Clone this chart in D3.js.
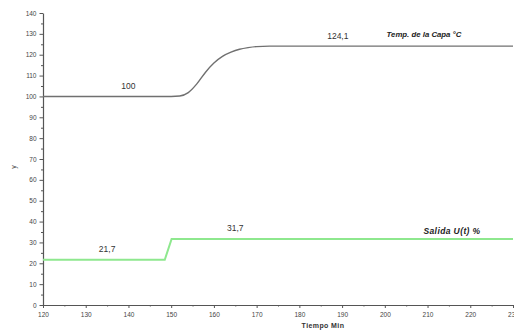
<!DOCTYPE html>
<html>
<head>
<meta charset="utf-8">
<script src="https://cdn.jsdelivr.net/npm/d3@7"></script>
<style>
    body { margin: 0; background: #fff; }
    svg { display: block; font-family: "Liberation Sans", Arial, sans-serif; }
</style>
</head>
<body>
<div id="chart"></div>
<script>
// time (min) and layer temperature
const tempTime = [120, 150, 152, 154, 156, 158, 160, 162, 164, 166, 168, 170, 173, 230];
const tempValue = [100, 100, 100.2, 101.8, 106, 111.5, 116, 119.2, 121.2, 122.6, 123.4, 123.9, 124.1, 124.1];

// controller output U(t) %
const outTime = [120, 148.5, 150.1, 230];
const outValue = [21.7, 21.7, 31.7, 31.7];

const xTicks = [120, 130, 140, 150, 160, 170, 180, 190, 200, 210, 220, 230];
const yTicks = [0, 10, 20, 30, 40, 50, 60, 70, 80, 90, 100, 110, 120, 130, 140];

const annotations = [
    { x: 140, y: 100, text: '100' },
    { x: 189, y: 124.1, text: '124,1' },
    { x: 135, y: 21.7, text: '21,7' },
    { x: 165, y: 31.7, text: '31,7' }
];

const width = 514;
const height = 335;

const x = d3.scaleLinear().domain([120, 230]).range([43, 513]);
const y = d3.scaleLinear().domain([0, 140]).range([305, 13]);

const svg = d3.select('#chart')
    .append('svg')
    .attr('width', width)
    .attr('height', height);

// x axis with minor ticks
svg.append('g')
    .attr('transform', 'translate(0,305)')
    .call(d3.axisBottom(x).tickValues(d3.range(125, 230, 10)).tickSize(1.5).tickFormat(''))
    .call(g => g.select('.domain').remove())
    .selectAll('line').attr('stroke', '#555');

const xAxis = svg.append('g')
    .attr('transform', 'translate(0,305)')
    .call(d3.axisBottom(x).tickValues(xTicks).tickSize(3).tickPadding(4).tickSizeOuter(0));
xAxis.select('.domain').attr('stroke', '#555').attr('stroke-width', 1.2);
xAxis.selectAll('.tick line').attr('stroke', '#555');
xAxis.selectAll('.tick text').attr('font-size', 6.5).attr('fill', '#444');

// y axis with minor ticks
svg.append('g')
    .attr('transform', 'translate(43,0)')
    .call(d3.axisLeft(y).tickValues(d3.range(5, 140, 10)).tickSize(2).tickFormat(''))
    .call(g => g.select('.domain').remove())
    .selectAll('line').attr('stroke', '#555');

const yAxis = svg.append('g')
    .attr('transform', 'translate(43,0)')
    .call(d3.axisLeft(y).tickValues(yTicks).tickSize(3.5).tickPadding(3).tickSizeOuter(0));
yAxis.select('.domain').attr('stroke', '#555').attr('stroke-width', 1.2);
yAxis.selectAll('.tick line').attr('stroke', '#555');
yAxis.selectAll('.tick text').attr('font-size', 6.5).attr('fill', '#444');

// axis titles
svg.append('text')
    .attr('x', 323)
    .attr('y', 328)
    .attr('text-anchor', 'middle')
    .attr('font-size', 7)
    .attr('font-weight', 'bold')
    .attr('letter-spacing', 0.4)
    .attr('fill', '#333')
    .text('Tiempo Min');

svg.append('text')
    .attr('transform', 'translate(16,167) rotate(-90)')
    .attr('text-anchor', 'middle')
    .attr('font-size', 7)
    .attr('fill', '#444')
    .text('y');

// lines
const tempLine = d3.line()
    .x(d => x(d[0]))
    .y(d => y(d[1]))
    .curve(d3.curveMonotoneX);

svg.append('path')
    .datum(d3.zip(tempTime, tempValue))
    .attr('d', tempLine)
    .attr('fill', 'none')
    .attr('stroke', '#707070')
    .attr('stroke-width', 1.4);

const outLine = d3.line()
    .x(d => x(d[0]))
    .y(d => y(d[1]));

svg.append('path')
    .datum(d3.zip(outTime, outValue))
    .attr('d', outLine)
    .attr('fill', 'none')
    .attr('stroke', '#8ee88e')
    .attr('stroke-width', 2);

// value labels
svg.selectAll('.value-label')
    .data(annotations)
    .enter().append('text')
    .attr('class', 'value-label')
    .attr('x', d => x(d.x))
    .attr('y', d => y(d.y) - 7.5)
    .attr('text-anchor', 'middle')
    .attr('font-size', 8.5)
    .attr('fill', '#333')
    .text(d => d.text);

// series names
svg.append('text')
    .attr('x', 424)
    .attr('y', 37)
    .attr('text-anchor', 'middle')
    .attr('font-size', 7.8)
    .attr('font-weight', 'bold')
    .attr('font-style', 'italic')
    .attr('fill', '#222')
    .text('Temp. de la Capa °C');

svg.append('text')
    .attr('x', 452)
    .attr('y', 233.5)
    .attr('text-anchor', 'middle')
    .attr('font-size', 8.5)
    .attr('font-weight', 'bold')
    .attr('font-style', 'italic')
    .attr('letter-spacing', 0.4)
    .attr('fill', '#222')
    .text('Salida U(t) %');
</script>
</body>
</html>
